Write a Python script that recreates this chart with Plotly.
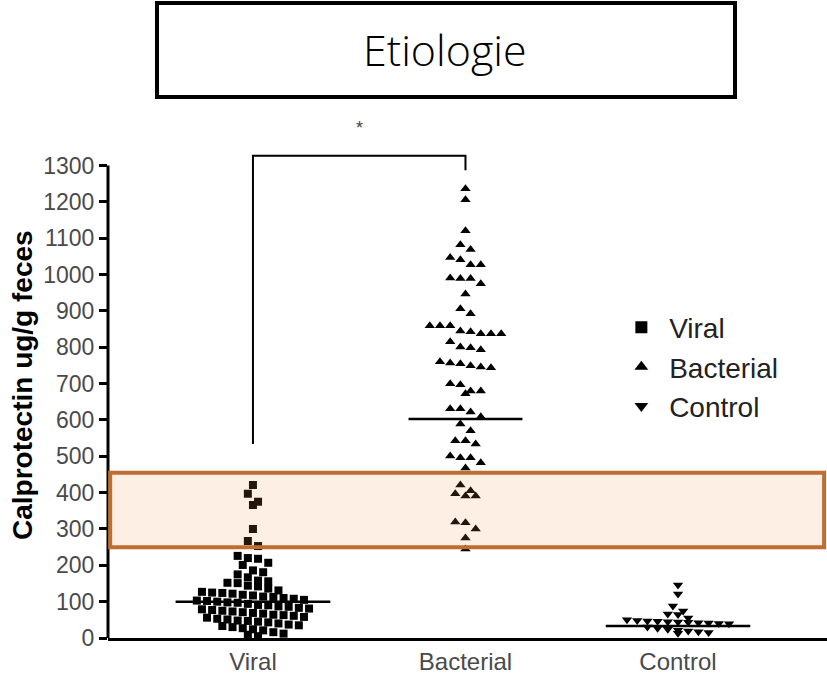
import plotly.graph_objects as go

# ---- data -------------------------------------------------------------
groups = ["Viral", "Bacterial", "Control"]

viral = [421, 397, 375, 366, 300, 267, 253,
         226, 220, 218, 207, 201,
         186, 181, 175, 167, 158, 156, 152, 151,
         144, 142, 136, 131, 127, 125, 124, 122, 119,
         117, 114, 113, 110, 108, 105, 103, 102, 100,
         98, 97, 94, 91, 90, 87, 86, 83, 81, 79, 77, 75, 73, 71, 69, 67, 64, 63, 61,
         58, 56, 53, 51, 48, 47, 45, 43, 40, 37, 35, 33, 30, 27, 24, 21,
         16, 12, 9, 5]

bacterial = [1236, 1206, 1121, 1082, 1069, 1047, 1041, 1027, 1027,
             991, 989, 989, 975, 947, 906, 892,
             859, 859, 859, 845, 843, 837, 837, 837,
             815, 801, 799, 793,
             760, 757, 755, 749, 746, 744,
             700, 697, 680, 680, 672,
             631, 631, 622, 609,
             589, 570,
             543, 543, 534,
             501, 496, 496, 482, 468,
             421, 405, 397, 391, 391,
             319, 317, 300, 275, 245]

control = [146, 121, 88, 74, 66, 65, 55,
           50, 48, 47, 46, 45, 44, 43, 42, 41, 40, 39,
           30, 27, 24, 21, 19, 17, 15, 13]

center_lines = [100, 603, 33]          # horizontal line drawn across each group

y_ticks = list(range(0, 1301, 100))

bracket_left_low = 534                  # Viral vs Bacterial comparison bracket
bracket_right_low = 1287
bracket_top = 1327
star_level = 1403

band_low, band_high = 250, 455          # highlighted calprotectin range

# ---- helpers -------------------------------------------------------------
def row_scatter(values, row_h, step):
    """Prism-style scatter: group values into rows, spread each row sideways."""
    order = sorted(range(len(values)), key=lambda i: -values[i])
    offs = [0.0] * len(values)
    rows, cur, start = [], [], None
    for i in order:
        v = values[i]
        if start is None or v <= start - row_h:
            if cur:
                rows.append(cur)
            cur, start = [], v
        cur.append(i)
    if cur:
        rows.append(cur)
    for row in rows:
        n = len(row)
        for j, i in enumerate(row):
            offs[i] = (j - (n - 1) / 2) * step
    return offs

STEP = 0.048
series = [
    (groups[0], viral, "square", 8, row_scatter(viral, 23, STEP)),
    (groups[1], bacterial, "triangle-up", 9, row_scatter(bacterial, 24, STEP)),
    (groups[2], control, "triangle-down", 9, row_scatter(control, 16, STEP)),
]

fig = go.Figure()

for gi, (name, vals, sym, size, offs) in enumerate(series):
    fig.add_trace(go.Scatter(
        x=[gi + o for o in offs], y=vals, mode="markers", name="\u00a0" + name,
        legendgroup=f"g{gi}",
        marker=dict(symbol=sym, size=size, color="black", line=dict(width=0)),
        cliponaxis=False, showlegend=True,
    ))
    pad = 0.1
    fig.add_shape(type="line", xref="x", yref="y",
                  x0=gi + min(offs) - pad, x1=gi + max(offs) + pad,
                  y0=center_lines[gi], y1=center_lines[gi],
                  line=dict(color="black", width=2.5))

# y axis line only up to the last tick
fig.add_shape(type="line", xref="paper", yref="y", x0=0, x1=0,
              y0=y_ticks[0], y1=y_ticks[-1], line=dict(color="black", width=3))

# significance bracket
fig.add_shape(type="path", xref="x", yref="y",
              path=f"M 0 {bracket_left_low} L 0 {bracket_top} L 1 {bracket_top} L 1 {bracket_right_low}",
              line=dict(color="black", width=2))
fig.add_annotation(x=0.5, y=star_level, xref="x", yref="y", text="*",
                   showarrow=False, font=dict(family="Liberation Sans", size=18, color="#444"))

# highlighted band
fig.add_shape(type="rect", xref="paper", yref="y", x0=0.003, x1=0.996,
              y0=band_low, y1=band_high, layer="above",
              fillcolor="rgba(242,148,68,0.15)",
              line=dict(color="#BD6E30", width=4))

# boxed title
fig.add_shape(type="rect", xref="paper", yref="paper",
              x0=(157 - 108) / 719, x1=(735 - 108) / 719,
              y0=(638 - 97) / 516, y1=(638 - 3) / 516,
              line=dict(color="black", width=4), fillcolor="white")
fig.add_annotation(x=(445 - 108) / 719, y=(638 - 50) / 516, xref="paper", yref="paper",
                   xanchor="center", yanchor="middle",
                   text="Etiologie", showarrow=False,
                   font=dict(family="Open Sans", size=43, color="black", weight=300))

# y axis title
fig.add_annotation(x=(22 - 108) / 719, y=(638 - 385) / 516, xref="paper", yref="paper",
                   xanchor="center", yanchor="middle", textangle=-90,
                   text="<b>Calprotectin ug/g feces</b>", showarrow=False,
                   font=dict(family="Liberation Sans", size=28, color="black"))

tick_font = dict(family="Liberation Sans", size=23, color="#4a4a4a")

fig.update_layout(
    width=827, height=678,
    margin=dict(l=108, r=0, t=122, b=40),
    plot_bgcolor="white", paper_bgcolor="white",
    showlegend=True,
    legend=dict(x=0.714, y=0.65, xanchor="left", yanchor="top",
                font=dict(family="Liberation Sans", size=28, color="#222"),
                tracegroupgap=0, bgcolor="rgba(0,0,0,0)", itemsizing="constant"),
    xaxis=dict(range=[-0.682, 2.701], tickvals=[0, 1, 2], ticktext=groups,
               showgrid=False, zeroline=False, showline=True, linecolor="black",
               linewidth=3, ticks="", tickfont=dict(family="Liberation Sans", size=24, color="#4a4a4a")),
    yaxis=dict(range=[0, 1420], tickvals=y_ticks, showgrid=False, zeroline=False,
               showline=False, ticks="outside", ticklen=8, tickwidth=3, tickcolor="black",
               tickfont=tick_font),
)

fig.write_html("out.html")
